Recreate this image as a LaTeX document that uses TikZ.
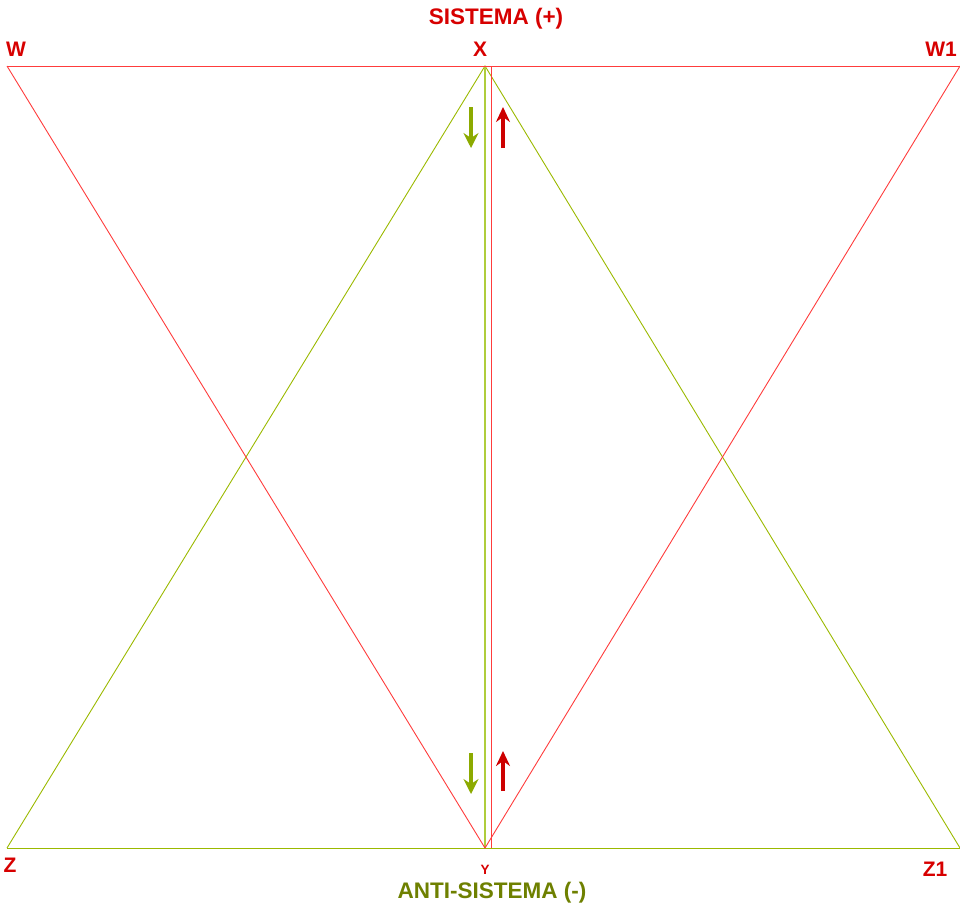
\documentclass[tikz,border=0pt]{standalone}
\usepackage{fontspec}
\setmainfont{Liberation Sans}
\usetikzlibrary{arrows.meta}
\definecolor{lred}{RGB}{255,60,60}
\definecolor{tred}{RGB}{215,0,0}
\definecolor{lgreen}{RGB}{155,185,0}
\definecolor{vgreen}{RGB}{175,205,60}
\definecolor{tgreen}{RGB}{110,128,0}
\definecolor{agreen}{RGB}{140,170,0}
\definecolor{ared}{RGB}{205,0,0}
\tikzset{
  redline/.style={draw=lred, line width=0.9pt},
  greenline/.style={draw=lgreen, line width=0.9pt},
  lbl/.style={font=\bfseries\fontsize{21}{21}\selectfont, text=tred, inner sep=0pt},
  smalllbl/.style={font=\bfseries\fontsize{13.5}{13.5}\selectfont, text=tred, inner sep=0pt},
  titlelbl/.style={font=\bfseries\fontsize{22.5}{22.5}\selectfont, inner sep=0pt},
  greenarrow/.style={draw=agreen, line width=3.6pt, -{Stealth[length=15pt,width=15pt,inset=5pt]}},
  redarrow/.style={draw=ared, line width=3.6pt, -{Stealth[length=15pt,width=14pt,inset=5pt]}}
}
\begin{document}
\begin{tikzpicture}[x=1pt,y=-1pt]
\useasboundingbox (0,0) rectangle (960,905);
% points
\coordinate (W) at (7,66);
\coordinate (X) at (485,66);
\coordinate (W1) at (960,66);
\coordinate (Z) at (7,848);
\coordinate (Y) at (485,848);
\coordinate (Z1) at (960,848);
\coordinate (Xr) at (491,66);
\coordinate (Yr) at (491,848);
% green lines
\draw[greenline] (Z) -- (Z1);
\draw[greenline] (Z) -- (X) -- (Z1);
\draw[draw=vgreen, line width=1.8pt] (X) -- (Y);
% red lines
\draw[redline] (W) -- (W1);
\draw[redline] (W) -- (Y) -- (W1);
\draw[redline] (Xr) -- (Yr);
% arrows
\coordinate (ga1) at (471,107);
\coordinate (ga2) at (471,148);
\coordinate (ra1) at (503,148);
\coordinate (ra2) at (503,107);
\coordinate (gb1) at (471,753);
\coordinate (gb2) at (471,794);
\coordinate (rb1) at (503,791);
\coordinate (rb2) at (503,751);
\draw[greenarrow] (ga1) -- (ga2);
\draw[redarrow] (ra1) -- (ra2);
\draw[greenarrow] (gb1) -- (gb2);
\draw[redarrow] (rb1) -- (rb2);
% labels
\node[titlelbl, text=tred] (sis) at (496,19) {SISTEMA (+)};
\node[lbl] (lX) at (480,49) {X};
\node[lbl] (lW) at (16,49) {W};
\node[lbl] (lW1) at (941,49) {W1};
\node[lbl] (lZ) at (10,865) {Z};
\node[lbl] (lZ1) at (935,869) {Z1};
\node[smalllbl] (lY) at (485,870) {Y};
\node[titlelbl, text=tgreen] (anti) at (492,893) {ANTI-SISTEMA (-)};
\end{tikzpicture}
\end{document}
